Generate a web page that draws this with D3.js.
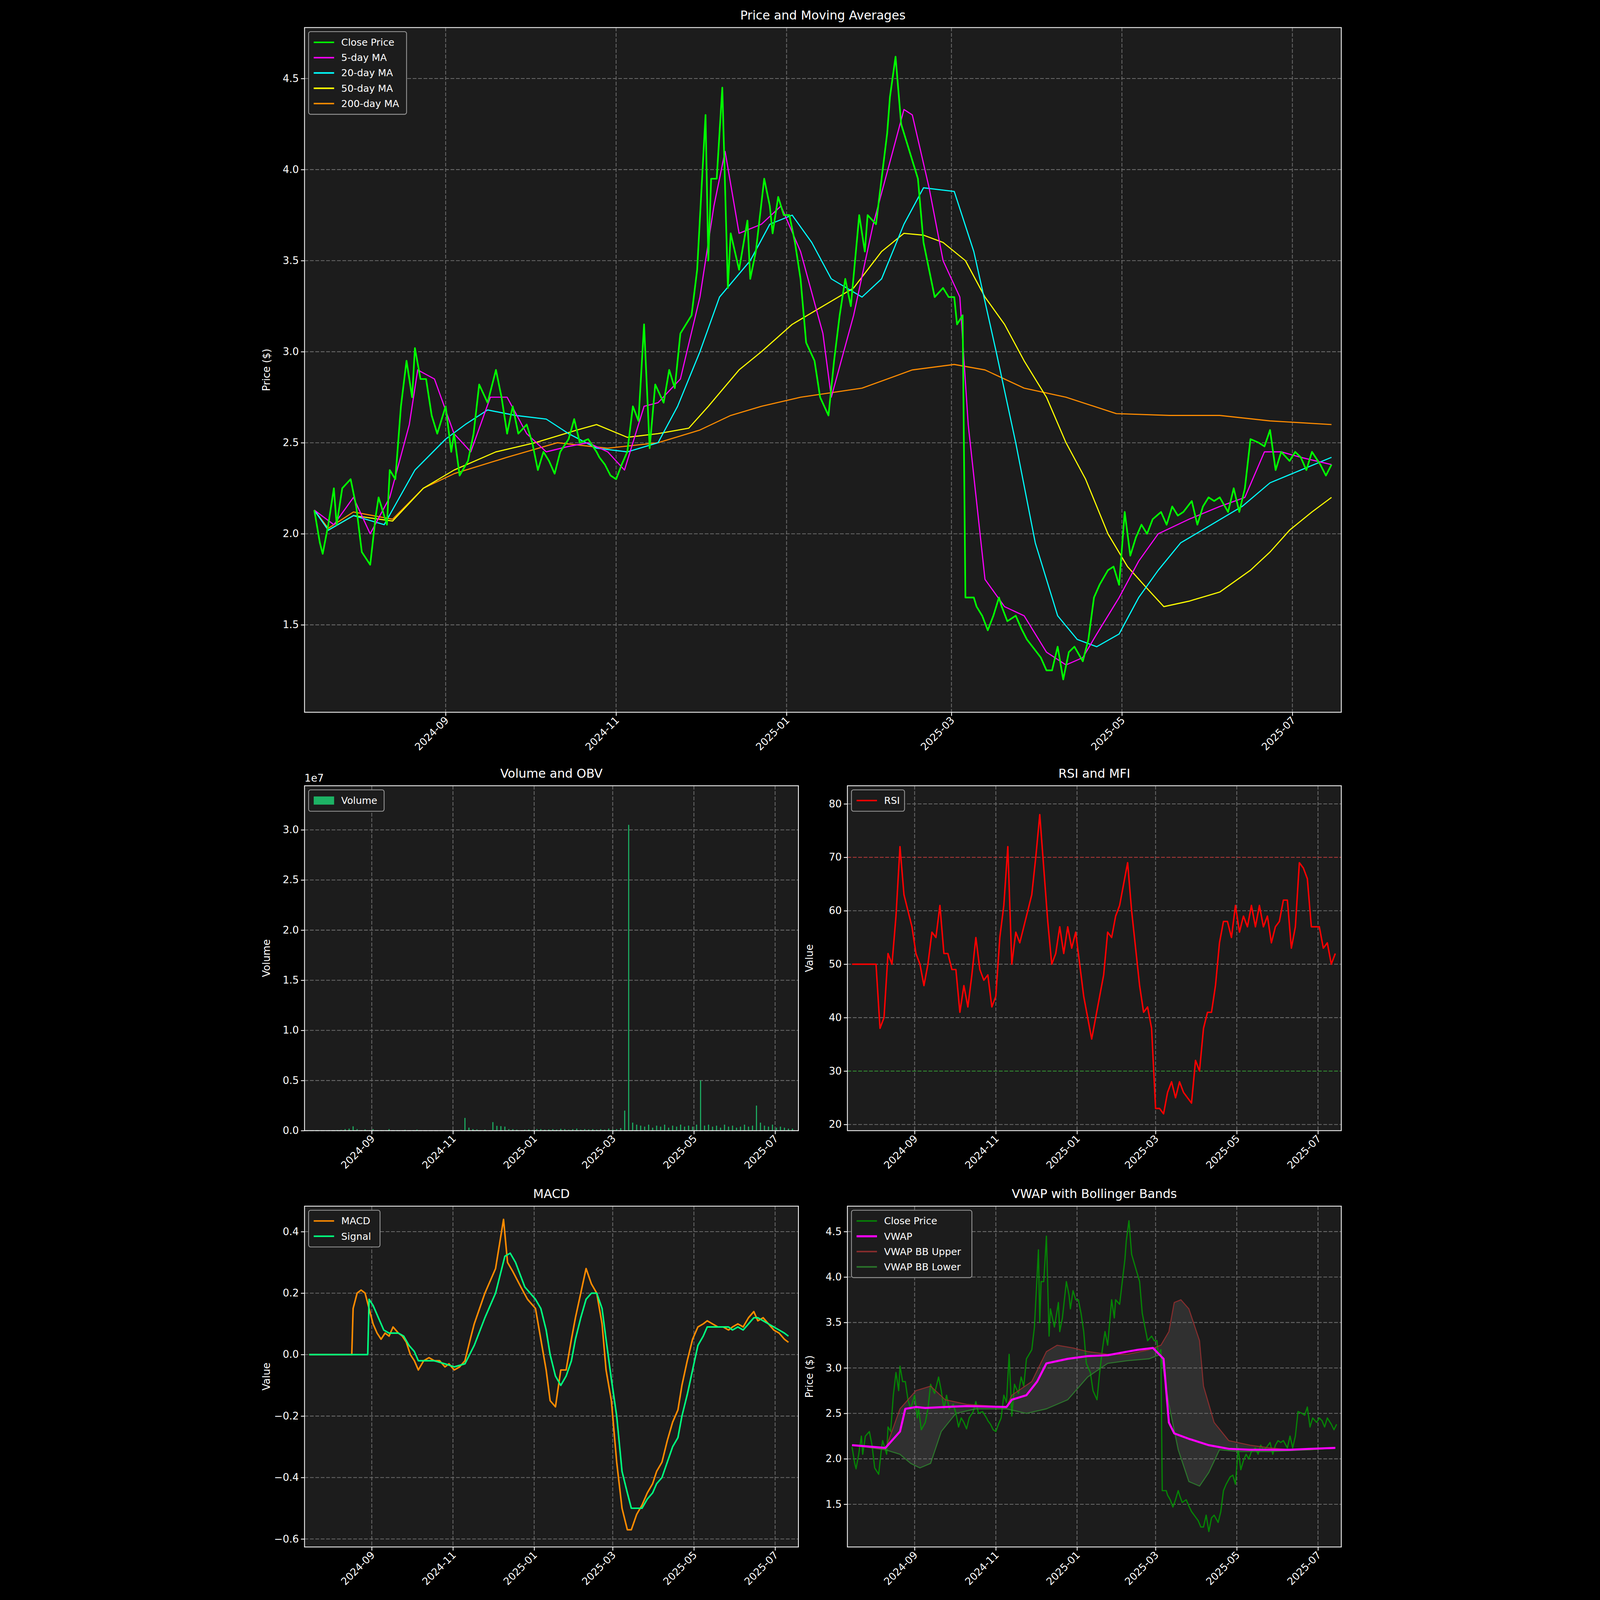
<!DOCTYPE html>
<html><head><meta charset="utf-8">
<script src="https://cdn.jsdelivr.net/npm/d3@7"></script>
<style>html,body{margin:0;padding:0;background:#000;overflow:hidden}svg{display:block;width:100vw;height:100vh}text{font-family:"DejaVu Sans",sans-serif;fill:#fff}</style>
</head><body>
<script>
// ---------- DATA (days since 2024-07-16) ----------
const closeDays=[0,2,3,5,7,8,10,13,15,17,20,22,23,26,27,29,31,33,35,36,38,40,42,44,47,49,50,52,55,57,59,62,65,67,69,71,73,76,78,80,82,84,86,88,91,93,95,98,101,102,104,106,108,110,112,114,116,118,120,122,125,127,129,131,133,135,137,140,141,142,144,146,148,149,152,155,156,158,161,163,164,166,168,170,172,174,176,179,181,184,186,188,190,192,195,197,198,201,203,205,206,208,210,212,214,216,218,220,222,225,227,229,230,232,233,236,237,239,241,243,245,246,248,251,253,255,257,260,262,264,266,268,270,272,275,277,279,281,284,286,288,290,292,294,296,298,300,303,305,307,309,311,314,316,318,320,322,324,327,329,331,333,335,338,340,342,344,346,349,351,353,355,357,360,362,364];
const closeVals=[2.13,1.95,1.89,2.05,2.25,2.05,2.25,2.3,2.15,1.9,1.83,2.1,2.2,2.05,2.35,2.3,2.7,2.95,2.75,3.02,2.85,2.85,2.65,2.55,2.7,2.45,2.55,2.32,2.4,2.55,2.82,2.72,2.9,2.75,2.55,2.7,2.55,2.6,2.5,2.35,2.45,2.4,2.33,2.45,2.52,2.63,2.5,2.52,2.45,2.42,2.38,2.32,2.3,2.38,2.45,2.7,2.62,3.15,2.47,2.82,2.72,2.9,2.8,3.1,3.15,3.2,3.45,4.3,3.5,3.95,3.95,4.45,3.35,3.65,3.45,3.72,3.4,3.55,3.95,3.8,3.65,3.85,3.75,3.75,3.6,3.4,3.05,2.95,2.75,2.65,2.95,3.2,3.4,3.25,3.75,3.55,3.75,3.7,3.95,4.2,4.4,4.62,4.25,4.15,4.05,3.95,3.6,3.45,3.3,3.35,3.3,3.3,3.15,3.2,1.65,1.65,1.6,1.55,1.47,1.55,1.65,1.6,1.52,1.55,1.48,1.42,1.38,1.32,1.25,1.25,1.38,1.2,1.35,1.38,1.3,1.42,1.65,1.72,1.8,1.82,1.72,2.12,1.88,1.98,2.05,2.0,2.08,2.12,2.05,2.15,2.1,2.12,2.18,2.05,2.15,2.2,2.18,2.2,2.12,2.25,2.12,2.25,2.52,2.5,2.48,2.57,2.35,2.45,2.4,2.45,2.42,2.35,2.45,2.38,2.32,2.38];
const ma5Days=[0,7,14,20,27,34,37,43,50,56,63,69,76,83,91,98,105,111,118,123,131,138,143,147,152,160,167,174,182,185,193,200,207,211,214,220,225,231,234,240,247,254,262,269,275,280,288,295,302,313,324,333,340,346,353,364];
const ma5Vals=[2.13,2.05,2.2,2.0,2.2,2.6,2.9,2.85,2.55,2.45,2.75,2.75,2.55,2.45,2.48,2.5,2.45,2.35,2.7,2.72,2.85,3.3,3.8,4.1,3.65,3.7,3.8,3.55,3.1,2.75,3.2,3.7,4.1,4.33,4.3,3.9,3.5,3.3,2.6,1.75,1.6,1.55,1.35,1.28,1.32,1.45,1.65,1.85,2.0,2.08,2.15,2.2,2.45,2.45,2.42,2.38];
const ma20Days=[0,5,14,25,36,47,54,62,72,83,91,101,112,123,130,138,145,156,163,171,178,185,196,203,211,218,229,236,244,251,258,266,273,280,288,295,302,310,321,332,342,353,364];
const ma20Vals=[2.13,2.02,2.1,2.05,2.35,2.52,2.6,2.68,2.65,2.63,2.55,2.47,2.45,2.5,2.7,3.0,3.3,3.5,3.7,3.75,3.6,3.4,3.3,3.4,3.7,3.9,3.88,3.55,3.0,2.5,1.95,1.55,1.42,1.38,1.45,1.65,1.8,1.95,2.05,2.15,2.28,2.35,2.42];
const ma50Days=[0,5,14,28,39,50,65,79,94,101,112,123,134,141,152,160,171,182,193,203,211,218,225,233,240,247,254,262,269,276,284,291,298,304,313,324,335,342,349,357,364];
const ma50Vals=[2.13,2.02,2.1,2.07,2.25,2.35,2.45,2.5,2.57,2.6,2.53,2.55,2.58,2.7,2.9,3.0,3.15,3.25,3.35,3.55,3.65,3.64,3.6,3.5,3.3,3.15,2.95,2.75,2.5,2.3,2.0,1.82,1.7,1.6,1.63,1.68,1.8,1.9,2.02,2.12,2.2];
const ma200Days=[0,5,10,14,28,39,50,69,87,105,123,138,149,160,174,196,214,229,240,254,269,287,306,324,342,364];
const ma200Vals=[2.13,2.03,2.08,2.12,2.08,2.25,2.33,2.42,2.5,2.47,2.5,2.57,2.65,2.7,2.75,2.8,2.9,2.93,2.9,2.8,2.75,2.66,2.65,2.65,2.62,2.6];
// volume, one bar every 3 days (units of 1e5 shares)
const volume=[0.4,0.3,0.5,0.3,0.3,0.4,0.3,0.6,0.8,1.5,2,4.3,1.5,0.5,1.2,0.5,1.5,0.4,0.5,0.4,1.5,0.4,0.5,0.3,0.8,0.3,0.5,1.0,0.3,0.2,0.2,0.2,0.2,0.1,0.2,0.2,0.3,0.4,0.8,12.7,3,1.5,1.2,0.6,1.0,0.3,8.5,4.8,4.5,4.0,1.5,1.5,1.0,0.5,1.0,1.2,0.8,1.5,1.5,1.0,1.2,1.5,1.0,1.8,1.5,1.0,1.5,2.0,1.0,1.5,1.2,1.5,1.0,1.5,1.0,2.0,1.2,1.5,2.5,20,305,8,6,5,4,6,3,5,4,6,3,5,4,6,4,5,4,6,50,5,6,4,5,3,6,4,5,3,4,6,4,5,25,8,5,4,6,3,4,3,2,2];
// RSI, one value every 3 days
const rsi=[50,50,50,50,50,50,50,38,40,52,50,59,72,63,60,57,52,50,46,50,56,55,61,52,52,49,49,41,46,42,48,55,49,47,48,42,44,55,61,72,50,56,54,57,60,63,70,78,68,58,50,52,57,52,57,53,56,50,44,40,36,40,44,48,56,55,59,61,65,69,60,53,46,41,42,38,23,23,22,26,28,25,28,26,25,24,32,30,38,41,41,46,54,58,58,55,61,56,59,57,61,57,61,57,59,54,57,58,62,62,53,57,69,68,66,57,57,57,53,54,50,52];
const macdDays=[0,32,33,36,39,42,45,48,51,54,57,60,63,67,70,73,76,79,82,86,90,94,98,102,105,109,113,117,121,124,128,132,136,140,143,146,149,153,159,164,170,174,178,181,185,189,193,197,200,204,208,212,216,220,223,227,231,235,239,242,246,250,254,258,261,265,269,273,277,280,284,288,292,296,299,303,307,311,315,318,322,326,330,334,337,341,345,349,353,357,360];
const macdVals=[0,0,0.15,0.2,0.21,0.2,0.15,0.1,0.07,0.05,0.07,0.06,0.09,0.07,0.06,0.04,0,-0.02,-0.05,-0.02,-0.01,-0.02,-0.02,-0.04,-0.03,-0.05,-0.04,-0.02,0.05,0.1,0.15,0.2,0.24,0.28,0.36,0.44,0.3,0.27,0.22,0.18,0.15,0.05,-0.05,-0.15,-0.17,-0.05,-0.05,0.05,0.12,0.2,0.28,0.23,0.2,0.1,-0.05,-0.15,-0.35,-0.5,-0.57,-0.57,-0.52,-0.49,-0.45,-0.42,-0.38,-0.35,-0.28,-0.22,-0.18,-0.1,-0.02,0.05,0.09,0.1,0.11,0.1,0.09,0.09,0.08,0.09,0.1,0.09,0.12,0.14,0.11,0.12,0.1,0.08,0.07,0.05,0.04];
const signalDays=[0,44,45,48,52,56,60,63,67,71,75,79,82,86,94,102,109,117,124,132,140,147,151,155,162,170,174,178,181,185,189,193,197,200,204,208,212,216,220,223,227,231,235,239,242,246,250,254,258,261,265,269,273,277,280,284,288,292,296,299,303,307,311,315,318,322,326,330,334,337,341,345,349,353,357,360];
const signalVals=[0,0,0.18,0.16,0.12,0.08,0.07,0.07,0.07,0.06,0.03,0.01,-0.02,-0.02,-0.02,-0.03,-0.04,-0.03,0.03,0.12,0.2,0.32,0.33,0.3,0.22,0.18,0.15,0.08,0,-0.07,-0.1,-0.07,-0.02,0.05,0.12,0.18,0.2,0.2,0.15,0.05,-0.08,-0.2,-0.38,-0.45,-0.5,-0.5,-0.5,-0.47,-0.45,-0.42,-0.4,-0.35,-0.3,-0.27,-0.2,-0.13,-0.05,0.03,0.06,0.09,0.09,0.09,0.09,0.09,0.08,0.09,0.08,0.1,0.12,0.12,0.11,0.1,0.09,0.08,0.07,0.06];
const vwapDays=[0,25,36,40,48,55,70,86,116,120,131,139,146,162,177,192,207,215,226,234,238,242,253,268,283,299,314,329,344,363];
const vwapVals=[2.15,2.12,2.3,2.55,2.57,2.56,2.57,2.58,2.57,2.65,2.7,2.85,3.05,3.1,3.13,3.14,3.18,3.2,3.22,3.1,2.4,2.28,2.22,2.15,2.11,2.1,2.1,2.1,2.11,2.12];
const bbUpDays=[0,25,36,48,59,70,86,116,120,135,146,154,166,177,192,207,223,232,238,242,247,253,261,264,272,283,299,314,329,344,363];
const bbUpVals=[2.15,2.1,2.55,2.75,2.8,2.65,2.6,2.57,2.7,2.85,3.18,3.25,3.22,3.18,3.15,3.15,3.2,3.25,3.4,3.72,3.75,3.65,3.3,2.8,2.4,2.2,2.15,2.12,2.1,2.1,2.12];
const bbLoDays=[0,25,36,44,51,59,67,78,93,116,131,146,162,177,192,207,223,232,238,245,253,261,268,276,291,314,344,363];
const bbLoVals=[2.15,2.1,2.05,1.95,1.9,1.95,2.3,2.5,2.55,2.55,2.5,2.55,2.65,2.9,3.05,3.08,3.1,3.15,2.6,2.1,1.75,1.7,1.85,2.1,2.08,2.08,2.1,2.12];
const priceTicks=[1.5,2.0,2.5,3.0,3.5,4.0,4.5];
const volTicks=[0,0.5,1.0,1.5,2.0,2.5,3.0];
const rsiTicks=[20,30,40,50,60,70,80];
const macdTicks=[-0.6,-0.4,-0.2,0.0,0.2,0.4];
const vwapTicks=[1.5,2.0,2.5,3.0,3.5,4.0,4.5];

// ---------- RENDER ----------
const S=4.15, W=4470, H=6507;
const D0=Date.UTC(2024,6,16), DAY=864e5;
const toDate=d=>new Date(D0+d*DAY);
const pts=(ds,vs)=>ds.map((d,i)=>[toDate(d),vs[i]]);
const svg=d3.select("body").append("svg").attr("viewBox",`0 0 ${W} ${H}`).attr("preserveAspectRatio","xMidYMid meet");
svg.append("rect").attr("width",W).attr("height",H).attr("fill","#000");
const FS=10*S;

function panel(o){
  const g=svg.append("g");
  const x=d3.scaleUtc().domain([toDate(-3.5),toDate(367.5)]).range([o.x0*S,o.x1*S]);
  const y=d3.scaleLinear().domain(o.yd).range([o.y1*S,o.y0*S]);
  g.append("rect").attr("x",o.x0*S).attr("y",o.y0*S).attr("width",(o.x1-o.x0)*S).attr("height",(o.y1-o.y0)*S).attr("fill","#1c1c1c");
  const xt=x.ticks(d3.utcMonth.every(2)).filter(t=>t.getUTCMonth()%2===0);
  const grid=g.append("g").attr("stroke","#6a6a6a").attr("stroke-width",S*0.8).attr("stroke-dasharray",`${3.7*S},${1.6*S}`);
  xt.forEach(t=>grid.append("line").attr("x1",x(t)).attr("x2",x(t)).attr("y1",o.y0*S).attr("y2",o.y1*S));
  o.yt.forEach(t=>grid.append("line").attr("x1",o.x0*S).attr("x2",o.x1*S).attr("y1",y(t)).attr("y2",y(t)));
  const clip="c"+Math.random().toString(36).slice(2);
  svg.append("clipPath").attr("id",clip).append("rect").attr("x",o.x0*S).attr("y",o.y0*S).attr("width",(o.x1-o.x0)*S).attr("height",(o.y1-o.y0)*S);
  const pg=g.append("g").attr("clip-path",`url(#${clip})`);
  o.draw(pg,x,y);
  g.append("rect").attr("x",o.x0*S).attr("y",o.y0*S).attr("width",(o.x1-o.x0)*S).attr("height",(o.y1-o.y0)*S).attr("fill","none").attr("stroke","#fff").attr("stroke-width",S*0.8);
  const xa=g.append("g").attr("transform",`translate(0,${o.y1*S})`).call(d3.axisBottom(x).tickValues(xt).tickFormat(d3.utcFormat("%Y-%m")).tickSize(3.5*S).tickPadding(2*S));
  xa.select(".domain").remove();
  xa.selectAll("line").attr("stroke","#fff").attr("stroke-width",S*0.8);
  xa.selectAll("text").attr("font-size",FS).attr("fill","#fff").attr("text-anchor","end").attr("dy","0.35em")
    .attr("transform",`translate(${1*S},${6*S}) rotate(-45)`).attr("y",0).attr("x",0);
  const ya=g.append("g").attr("transform",`translate(${o.x0*S},0)`).call(d3.axisLeft(y).tickValues(o.yt).tickFormat(o.yf).tickSize(3.5*S).tickPadding(2*S));
  ya.select(".domain").remove();
  ya.selectAll("line").attr("stroke","#fff").attr("stroke-width",S*0.8);
  ya.selectAll("text").attr("font-size",FS).attr("fill","#fff");
  g.append("text").attr("x",(o.x0+o.x1)/2*S).attr("y",(o.y0-8)*S).attr("text-anchor","middle").attr("font-size",12*S).text(o.title);
  g.append("text").attr("transform",`translate(${(o.x0-34)*S},${(o.y0+o.y1)/2*S}) rotate(-90)`).attr("text-anchor","middle").attr("font-size",FS).text(o.ylab);
  if(o.legend){
    const lw=o.legend.w*S, lx=(o.x0+4)*S, ly=(o.y0+4)*S;
    const lg=g.append("g");
    lg.append("rect").attr("x",lx).attr("y",ly).attr("width",lw).attr("height",(o.legend.items.length*15+6)*S).attr("rx",2*S).attr("fill","#1c1c1c").attr("stroke","#999").attr("stroke-width",S*0.8);
    o.legend.items.forEach((it,i)=>{
      const cy=ly+(3+7.5+i*15)*S;
      if(it.patch) lg.append("rect").attr("x",lx+5*S).attr("y",cy-4*S).attr("width",20*S).attr("height",8*S).attr("fill",it.c);
      else lg.append("line").attr("x1",lx+5*S).attr("x2",lx+25*S).attr("y1",cy).attr("y2",cy).attr("stroke",it.c).attr("stroke-width",(it.w||1.5)*S).attr("opacity",it.o||1);
      lg.append("text").attr("x",lx+32*S).attr("y",cy).attr("dy","0.35em").attr("font-size",9.5*S).text(it.t);
    });
  }
  return g;
}
const line=(x,y)=>d3.line().x(d=>x(d[0])).y(d=>y(d[1]));
function path(g,x,y,data,c,w,op){g.append("path").attr("d",line(x,y)(data)).attr("fill","none").attr("stroke",c).attr("stroke-width",w*S).attr("stroke-linejoin","round").attr("opacity",op||1);}

panel({x0:53,x1:1069,y0:27,y1:698,yd:[1.02,4.78],yt:priceTicks,yf:d3.format(".1f"),title:"Price and Moving Averages",ylab:"Price ($)",
  legend:{w:96,items:[{t:"Close Price",c:"#00ff00"},{t:"5-day MA",c:"#ff00ff"},{t:"20-day MA",c:"#00ffff"},{t:"50-day MA",c:"#ffff00"},{t:"200-day MA",c:"#ff8c00"}]},
  draw:(g,x,y)=>{
    path(g,x,y,pts(ma200Days,ma200Vals),"#ff8c00",1.1);
    path(g,x,y,pts(ma50Days,ma50Vals),"#ffff00",1.1);
    path(g,x,y,pts(ma20Days,ma20Vals),"#00ffff",1.1);
    path(g,x,y,pts(ma5Days,ma5Vals),"#ff00ff",1.1);
    path(g,x,y,pts(closeDays,closeVals),"#00ff00",1.6);
  }});
panel({x0:53,x1:537,y0:770,y1:1108,yd:[0,3.44e7],yt:volTicks.map(v=>v*1e7),yf:v=>(v/1e7).toFixed(1),title:"Volume and OBV",ylab:"Volume",
  legend:{w:74,items:[{t:"Volume",c:"#1db264",patch:true}]},
  draw:(g,x,y)=>{
    const bw=x(toDate(1))-x(toDate(0));
    g.selectAll("rect.v").data(volume).join("rect").attr("x",(v,i)=>x(toDate(i*3))-bw*0.4).attr("width",bw*0.8)
      .attr("y",v=>y(v*1e5)).attr("height",v=>y(0)-y(v*1e5)).attr("fill","#1db264");
  }});
svg.append("text").attr("x",53*S).attr("y",766*S).attr("font-size",FS).text("1e7");
panel({x0:585,x1:1069,y0:770,y1:1108,yd:[18.85,83.4],yt:rsiTicks,yf:d3.format("d"),title:"RSI and MFI",ylab:"Value",
  legend:{w:52,items:[{t:"RSI",c:"#ff0000"}]},
  draw:(g,x,y)=>{
    [[70,"#ff0000"],[30,"#00c000"]].forEach(([v,c])=>g.append("line").attr("x1",x.range()[0]).attr("x2",x.range()[1]).attr("y1",y(v)).attr("y2",y(v)).attr("stroke",c).attr("stroke-width",S*0.8).attr("stroke-dasharray",`${3.7*S},${1.6*S}`).attr("opacity",0.5));
    path(g,x,y,rsi.map((v,i)=>[toDate(i*3),v]),"#ff0000",1.4);
  }});
panel({x0:53,x1:537,y0:1182,y1:1516,yd:[-0.626,0.483],yt:macdTicks,yf:d3.format(".1f"),title:"MACD",ylab:"Value",
  legend:{w:70,items:[{t:"MACD",c:"#ff8c00"},{t:"Signal",c:"#00ff7f"}]},
  draw:(g,x,y)=>{
    path(g,x,y,pts(macdDays,macdVals),"#ff8c00",1.5);
    path(g,x,y,pts(signalDays,signalVals),"#00ff7f",1.5);
  }});
panel({x0:585,x1:1069,y0:1182,y1:1516,yd:[1.03,4.78],yt:vwapTicks,yf:d3.format(".1f"),title:"VWAP with Bollinger Bands",ylab:"Price ($)",
  legend:{w:118,items:[{t:"Close Price",c:"#00a000",o:0.8},{t:"VWAP",c:"#ff00ff",w:2},{t:"VWAP BB Upper",c:"#a03030",o:0.8},{t:"VWAP BB Lower",c:"#2e8b2e",o:0.8}]},
  draw:(g,x,y)=>{
    const up=pts(bbUpDays,bbUpVals), lo=pts(bbLoDays,bbLoVals);
    g.append("path").attr("d",line(x,y)(up.concat(lo.slice().reverse()))+"Z").attr("fill","#808080").attr("opacity",0.2);
    path(g,x,y,pts(closeDays,closeVals),"#00a000",1.2,0.8);
    path(g,x,y,up,"#a03030",1.0,0.8);
    path(g,x,y,lo,"#2e8b2e",1.0,0.8);
    path(g,x,y,pts(vwapDays,vwapVals),"#ff00ff",2);
  }});
</script>
</body></html>
